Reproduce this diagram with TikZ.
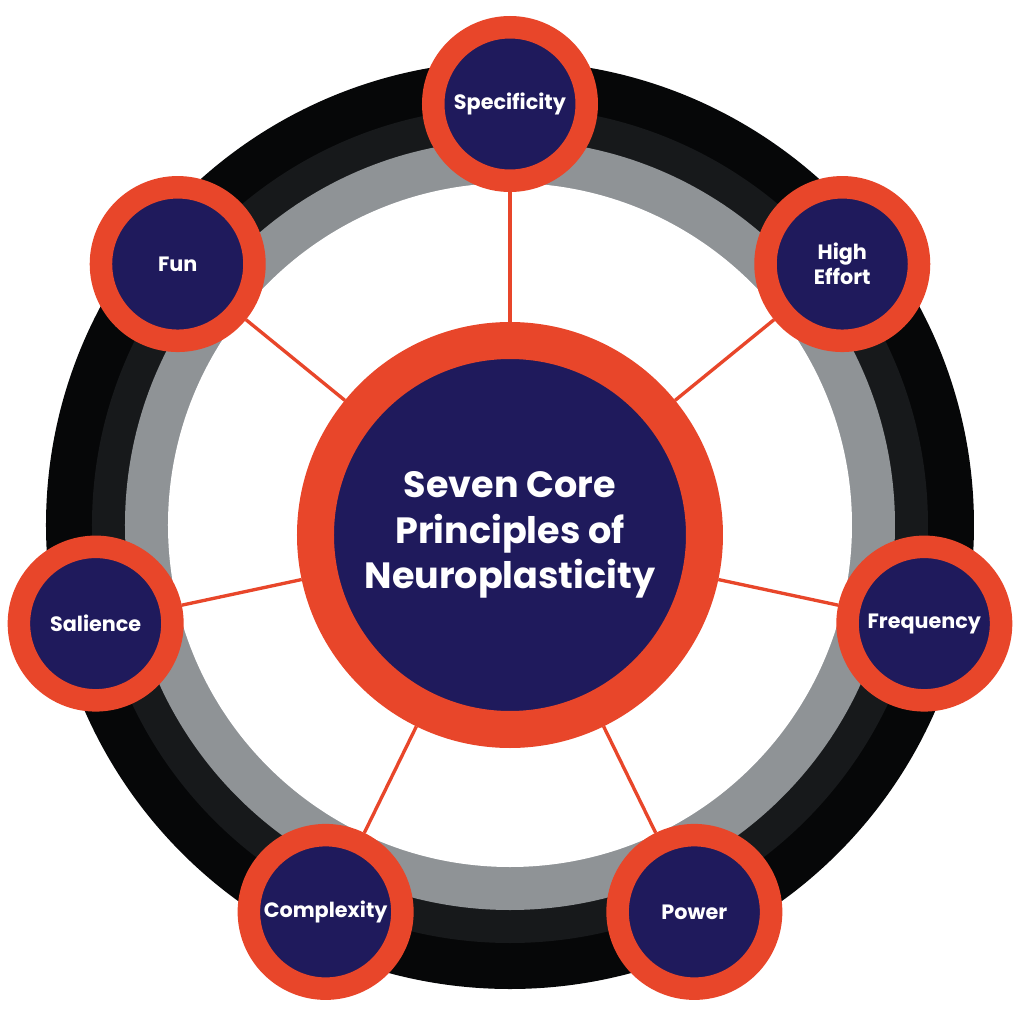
\documentclass[tikz,border=0pt]{standalone}
\usepackage{fontspec}
\setmainfont{Poppins}
\usepackage{tikz}
\usetikzlibrary{calc, positioning, backgrounds}
\definecolor{accent}{HTML}{E8462A}
\definecolor{navy}{HTML}{1F1A5C}
\definecolor{ringblack}{HTML}{060708}
\definecolor{ringdark}{HTML}{17191B}
\definecolor{ringgray}{HTML}{8F9396}
\pgfdeclarelayer{rings}
\pgfsetlayers{rings,background,main}
\def\orbit{4.25cm}
\tikzstyle{core}=[circle,fill=navy,draw=accent,line width=0.37cm,minimum size=3.89cm,inner sep=0pt,
  text=white,align=center,font=\bfseries\fontsize{10.4}{13}\selectfont]
\tikzstyle{principle}=[circle,fill=navy,draw=accent,line width=0.225cm,minimum size=1.535cm,inner sep=0pt,
  text=white,align=center,font=\bfseries\fontsize{5.9}{7.1}\selectfont]
\tikzstyle{spoke}=[draw=accent,line width=0.95pt]
\begin{document}
\begin{tikzpicture}
		\useasboundingbox (-5.10,-4.95) rectangle (5.14,5.29);
		% rings
		\begin{pgfonlayer}{rings}
		\fill[ringblack] (0,0.04) circle (4.64);
		\fill[ringdark] (0,0.04) circle (4.18);
		\fill[ringgray] (0,0.04) circle (3.85);
		\fill[white] (0,0.04) circle (3.42);
		\end{pgfonlayer}
		\node[core] (C) at (0,-0.06) {Seven Core\\Principles of\\Neuroplasticity};
		\node[principle] (P-1) at (90:\orbit) {Specificity};
		\node[principle] (P-2) at (38.57:\orbit) {High\\Effort};
		\node[principle] (P-3) at (-12.86:\orbit) {Frequency};
		\node[principle] (P-4) at (-64.29:\orbit) {Power};
		\node[principle] (P-5) at (-115.71:\orbit) {Complexity};
		\node[principle] (P-6) at (-167.14:\orbit) {Salience};
		\node[principle] (P-7) at (141.43:\orbit) {Fun};
		\begin{scope}[on background layer]
		\path
		(C) edge[spoke] (P-1)
		(C) edge[spoke] (P-2)
		(C) edge[spoke] (P-3)
		(C) edge[spoke] (P-4)
		(C) edge[spoke] (P-5)
		(C) edge[spoke] (P-6)
		(C) edge[spoke] (P-7);
		\end{scope}
	\end{tikzpicture}
\end{document}
